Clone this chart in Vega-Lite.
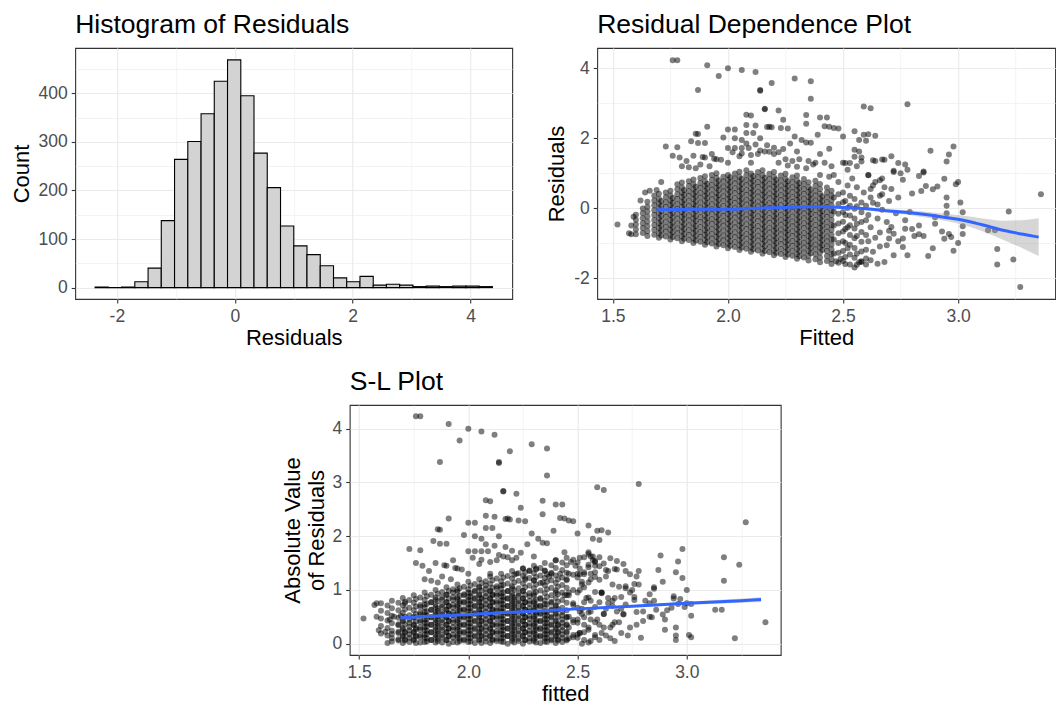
{
"$schema": "https://vega.github.io/schema/vega-lite/v6.json",
"background": "white",
"padding": {"left": 9, "top": 10, "right": 0, "bottom": 0},
"config": {
  "font": "Liberation Sans",
  "view": {"stroke": "#333333", "strokeWidth": 1.1},
  "title": {"fontSize": 26.5, "fontWeight": "normal", "anchor": "start", "frame": "group", "color": "black", "baseline": "alphabetic", "offset": 10},
  "axis": {"domain": false, "gridColor": "#EBEBEB", "tickColor": "#333333", "tickSize": 4, "tickWidth": 1.1, "labelColor": "#4D4D4D", "labelFontSize": 17.5, "titleFontSize": 22, "titleFontWeight": "normal", "titleColor": "black", "labelPadding": 4},
  "axisX": {"titlePadding": 3},
  "axisY": {"titlePadding": 5}
},
"datasets": {
"hist": [
{"lo":-2.370,"hi":-2.145,"count":1},{"lo":-2.145,"hi":-1.921,"count":0},{"lo":-1.921,"hi":-1.696,"count":1},{"lo":-1.696,"hi":-1.471,"count":12},{"lo":-1.471,"hi":-1.247,"count":40},{"lo":-1.247,"hi":-1.022,"count":138},{"lo":-1.022,"hi":-0.797,"count":264},{"lo":-0.797,"hi":-0.572,"count":301},{"lo":-0.572,"hi":-0.348,"count":358},{"lo":-0.348,"hi":-0.123,"count":425},{"lo":-0.123,"hi":0.102,"count":469},{"lo":0.102,"hi":0.326,"count":395},{"lo":0.326,"hi":0.551,"count":277},{"lo":0.551,"hi":0.776,"count":206},{"lo":0.776,"hi":1.001,"count":127},{"lo":1.001,"hi":1.225,"count":86},{"lo":1.225,"hi":1.450,"count":68},{"lo":1.450,"hi":1.675,"count":45},{"lo":1.675,"hi":1.899,"count":20},{"lo":1.899,"hi":2.124,"count":12},{"lo":2.124,"hi":2.349,"count":23},{"lo":2.349,"hi":2.573,"count":5},{"lo":2.573,"hi":2.798,"count":7},{"lo":2.798,"hi":3.023,"count":5},{"lo":3.023,"hi":3.248,"count":2},{"lo":3.248,"hi":3.472,"count":3},{"lo":3.472,"hi":3.697,"count":2},{"lo":3.697,"hi":3.922,"count":3},{"lo":3.922,"hi":4.146,"count":3},{"lo":4.146,"hi":4.371,"count":2}
],
"smooth": [
{"f":1.69,"fit":-0.05,"lo":-0.11,"hi":0.01},{"f":1.8,"fit":-0.04,"lo":-0.08,"hi":0.0},{"f":1.9,"fit":-0.03,"lo":-0.06,"hi":0.0},{"f":2.0,"fit":-0.03,"lo":-0.055,"hi":-0.005},{"f":2.1,"fit":-0.01,"lo":-0.035,"hi":0.015},{"f":2.2,"fit":0.01,"lo":-0.015,"hi":0.035},{"f":2.3,"fit":0.03,"lo":0.005,"hi":0.055},{"f":2.4,"fit":0.04,"lo":0.015,"hi":0.065},{"f":2.5,"fit":0.02,"lo":-0.01,"hi":0.05},{"f":2.6,"fit":-0.02,"lo":-0.06,"hi":0.02},{"f":2.7,"fit":-0.08,"lo":-0.13,"hi":-0.03},{"f":2.8,"fit":-0.14,"lo":-0.21,"hi":-0.07},{"f":2.9,"fit":-0.22,"lo":-0.31,"hi":-0.13},{"f":3.0,"fit":-0.32,"lo":-0.44,"hi":-0.2},{"f":3.1,"fit":-0.47,"lo":-0.65,"hi":-0.29},{"f":3.2,"fit":-0.64,"lo":-0.92,"hi":-0.36},{"f":3.3,"fit":-0.77,"lo":-1.21,"hi":-0.33},{"f":3.35,"fit":-0.83,"lo":-1.37,"hi":-0.29}
],
"slsmooth": [
{"f":1.69,"fit":0.48,"lo":0.45,"hi":0.51},{"f":2.0,"fit":0.544,"lo":0.529,"hi":0.559},{"f":2.25,"fit":0.595,"lo":0.583,"hi":0.607},{"f":2.5,"fit":0.647,"lo":0.632,"hi":0.662},{"f":2.75,"fit":0.698,"lo":0.678,"hi":0.718},{"f":3.0,"fit":0.75,"lo":0.72,"hi":0.78},{"f":3.25,"fit":0.8,"lo":0.76,"hi":0.84},{"f":3.34,"fit":0.82,"lo":0.775,"hi":0.865}
],
"pts": [
{"f":1.6,"r":-0.75,"a":0.75},{"f":1.6,"r":-0.61,"a":0.61},{"f":1.6,"r":-0.47,"a":0.47},{"f":1.6,"r":-0.33,"a":0.33},{"f":1.6,"r":-0.19,"a":0.19},
{"f":1.63,"r":-0.71,"a":0.71},{"f":1.63,"r":-0.57,"a":0.57},{"f":1.63,"r":-0.43,"a":0.43},{"f":1.63,"r":-0.29,"a":0.29},{"f":1.63,"r":-0.15,"a":0.15},{"f":1.63,"r":-0.01,"a":0.01},
{"f":1.65,"r":-0.8,"a":0.8},{"f":1.65,"r":-0.66,"a":0.66},{"f":1.65,"r":-0.52,"a":0.52},{"f":1.65,"r":-0.38,"a":0.38},{"f":1.65,"r":-0.24,"a":0.24},{"f":1.65,"r":-0.1,"a":0.1},{"f":1.65,"r":0.04,"a":0.04},{"f":1.65,"r":0.18,"a":0.18},
{"f":1.68,"r":-0.76,"a":0.76},{"f":1.68,"r":-0.62,"a":0.62},{"f":1.68,"r":-0.48,"a":0.48},{"f":1.68,"r":-0.34,"a":0.34},{"f":1.68,"r":-0.2,"a":0.2},{"f":1.68,"r":-0.06,"a":0.06},{"f":1.68,"r":0.08,"a":0.08},{"f":1.68,"r":0.22,"a":0.22},{"f":1.68,"r":0.36,"a":0.36},
{"f":1.7,"r":-0.85,"a":0.85},{"f":1.7,"r":-0.71,"a":0.71},{"f":1.7,"r":-0.57,"a":0.57},{"f":1.7,"r":-0.43,"a":0.43},{"f":1.7,"r":-0.29,"a":0.29},{"f":1.7,"r":-0.15,"a":0.15},{"f":1.7,"r":-0.01,"a":0.01},{"f":1.7,"r":0.13,"a":0.13},{"f":1.7,"r":0.27,"a":0.27},{"f":1.7,"r":0.41,"a":0.41},
{"f":1.71,"r":-0.78,"a":0.78},{"f":1.71,"r":-0.64,"a":0.64},{"f":1.71,"r":-0.5,"a":0.5},{"f":1.71,"r":-0.36,"a":0.36},{"f":1.71,"r":-0.22,"a":0.22},{"f":1.71,"r":-0.08,"a":0.08},{"f":1.71,"r":0.06,"a":0.06},{"f":1.71,"r":0.2,"a":0.2},
{"f":1.73,"r":-0.81,"a":0.81},{"f":1.73,"r":-0.67,"a":0.67},{"f":1.73,"r":-0.53,"a":0.53},{"f":1.73,"r":-0.39,"a":0.39},{"f":1.73,"r":-0.25,"a":0.25},{"f":1.73,"r":-0.11,"a":0.11},{"f":1.73,"r":0.03,"a":0.03},{"f":1.73,"r":0.17,"a":0.17},{"f":1.73,"r":0.31,"a":0.31},{"f":1.73,"r":0.45,"a":0.45},
{"f":1.75,"r":-0.9,"a":0.9},{"f":1.75,"r":-0.76,"a":0.76},{"f":1.75,"r":-0.62,"a":0.62},{"f":1.75,"r":-0.48,"a":0.48},{"f":1.75,"r":-0.34,"a":0.34},{"f":1.75,"r":-0.2,"a":0.2},{"f":1.75,"r":-0.06,"a":0.06},{"f":1.75,"r":0.08,"a":0.08},{"f":1.75,"r":0.22,"a":0.22},{"f":1.75,"r":0.36,"a":0.36},{"f":1.75,"r":0.5,"a":0.5},
{"f":1.76,"r":-0.83,"a":0.83},{"f":1.76,"r":-0.69,"a":0.69},{"f":1.76,"r":-0.55,"a":0.55},{"f":1.76,"r":-0.41,"a":0.41},{"f":1.76,"r":-0.27,"a":0.27},{"f":1.76,"r":-0.13,"a":0.13},{"f":1.76,"r":0.01,"a":0.01},{"f":1.76,"r":0.15,"a":0.15},{"f":1.76,"r":0.29,"a":0.29},
{"f":1.78,"r":-0.86,"a":0.86},{"f":1.78,"r":-0.72,"a":0.72},{"f":1.78,"r":-0.58,"a":0.58},{"f":1.78,"r":-0.44,"a":0.44},{"f":1.78,"r":-0.3,"a":0.3},{"f":1.78,"r":-0.16,"a":0.16},{"f":1.78,"r":-0.02,"a":0.02},{"f":1.78,"r":0.12,"a":0.12},{"f":1.78,"r":0.26,"a":0.26},{"f":1.78,"r":0.4,"a":0.4},{"f":1.78,"r":0.54,"a":0.54},{"f":1.78,"r":0.68,"a":0.68},
{"f":1.8,"r":-0.95,"a":0.95},{"f":1.8,"r":-0.81,"a":0.81},{"f":1.8,"r":-0.67,"a":0.67},{"f":1.8,"r":-0.53,"a":0.53},{"f":1.8,"r":-0.39,"a":0.39},{"f":1.8,"r":-0.25,"a":0.25},{"f":1.8,"r":-0.11,"a":0.11},{"f":1.8,"r":0.03,"a":0.03},{"f":1.8,"r":0.17,"a":0.17},{"f":1.8,"r":0.31,"a":0.31},{"f":1.8,"r":0.45,"a":0.45},{"f":1.8,"r":0.59,"a":0.59},{"f":1.8,"r":0.73,"a":0.73},
{"f":1.81,"r":-0.88,"a":0.88},{"f":1.81,"r":-0.74,"a":0.74},{"f":1.81,"r":-0.6,"a":0.6},{"f":1.81,"r":-0.46,"a":0.46},{"f":1.81,"r":-0.32,"a":0.32},{"f":1.81,"r":-0.18,"a":0.18},{"f":1.81,"r":-0.04,"a":0.04},{"f":1.81,"r":0.1,"a":0.1},{"f":1.81,"r":0.24,"a":0.24},{"f":1.81,"r":0.38,"a":0.38},{"f":1.81,"r":0.52,"a":0.52},
{"f":1.83,"r":-0.91,"a":0.91},{"f":1.83,"r":-0.77,"a":0.77},{"f":1.83,"r":-0.63,"a":0.63},{"f":1.83,"r":-0.49,"a":0.49},{"f":1.83,"r":-0.35,"a":0.35},{"f":1.83,"r":-0.21,"a":0.21},{"f":1.83,"r":-0.07,"a":0.07},{"f":1.83,"r":0.07,"a":0.07},{"f":1.83,"r":0.21,"a":0.21},{"f":1.83,"r":0.35,"a":0.35},{"f":1.83,"r":0.49,"a":0.49},{"f":1.83,"r":0.63,"a":0.63},{"f":1.83,"r":0.77,"a":0.77},
{"f":1.85,"r":-1.0,"a":1.0},{"f":1.85,"r":-0.86,"a":0.86},{"f":1.85,"r":-0.72,"a":0.72},{"f":1.85,"r":-0.58,"a":0.58},{"f":1.85,"r":-0.44,"a":0.44},{"f":1.85,"r":-0.3,"a":0.3},{"f":1.85,"r":-0.16,"a":0.16},{"f":1.85,"r":-0.02,"a":0.02},{"f":1.85,"r":0.12,"a":0.12},{"f":1.85,"r":0.26,"a":0.26},{"f":1.85,"r":0.4,"a":0.4},{"f":1.85,"r":0.54,"a":0.54},{"f":1.85,"r":0.68,"a":0.68},{"f":1.85,"r":0.82,"a":0.82},
{"f":1.86,"r":-0.93,"a":0.93},{"f":1.86,"r":-0.79,"a":0.79},{"f":1.86,"r":-0.65,"a":0.65},{"f":1.86,"r":-0.51,"a":0.51},{"f":1.86,"r":-0.37,"a":0.37},{"f":1.86,"r":-0.23,"a":0.23},{"f":1.86,"r":-0.09,"a":0.09},{"f":1.86,"r":0.05,"a":0.05},{"f":1.86,"r":0.19,"a":0.19},{"f":1.86,"r":0.33,"a":0.33},{"f":1.86,"r":0.47,"a":0.47},{"f":1.86,"r":0.61,"a":0.61},
{"f":1.88,"r":-0.96,"a":0.96},{"f":1.88,"r":-0.82,"a":0.82},{"f":1.88,"r":-0.68,"a":0.68},{"f":1.88,"r":-0.54,"a":0.54},{"f":1.88,"r":-0.4,"a":0.4},{"f":1.88,"r":-0.26,"a":0.26},{"f":1.88,"r":-0.12,"a":0.12},{"f":1.88,"r":0.02,"a":0.02},{"f":1.88,"r":0.16,"a":0.16},{"f":1.88,"r":0.3,"a":0.3},{"f":1.88,"r":0.44,"a":0.44},{"f":1.88,"r":0.58,"a":0.58},{"f":1.88,"r":0.72,"a":0.72},{"f":1.88,"r":0.86,"a":0.86},
{"f":1.9,"r":-1.05,"a":1.05},{"f":1.9,"r":-0.91,"a":0.91},{"f":1.9,"r":-0.77,"a":0.77},{"f":1.9,"r":-0.63,"a":0.63},{"f":1.9,"r":-0.49,"a":0.49},{"f":1.9,"r":-0.35,"a":0.35},{"f":1.9,"r":-0.21,"a":0.21},{"f":1.9,"r":-0.07,"a":0.07},{"f":1.9,"r":0.07,"a":0.07},{"f":1.9,"r":0.21,"a":0.21},{"f":1.9,"r":0.35,"a":0.35},{"f":1.9,"r":0.49,"a":0.49},{"f":1.9,"r":0.63,"a":0.63},{"f":1.9,"r":0.77,"a":0.77},{"f":1.9,"r":0.91,"a":0.91},
{"f":1.91,"r":-0.98,"a":0.98},{"f":1.91,"r":-0.84,"a":0.84},{"f":1.91,"r":-0.7,"a":0.7},{"f":1.91,"r":-0.56,"a":0.56},{"f":1.91,"r":-0.42,"a":0.42},{"f":1.91,"r":-0.28,"a":0.28},{"f":1.91,"r":-0.14,"a":0.14},{"f":1.91,"r":0.0,"a":0.0},{"f":1.91,"r":0.14,"a":0.14},{"f":1.91,"r":0.28,"a":0.28},{"f":1.91,"r":0.42,"a":0.42},{"f":1.91,"r":0.56,"a":0.56},{"f":1.91,"r":0.7,"a":0.7},
{"f":1.93,"r":-1.01,"a":1.01},{"f":1.93,"r":-0.87,"a":0.87},{"f":1.93,"r":-0.73,"a":0.73},{"f":1.93,"r":-0.59,"a":0.59},{"f":1.93,"r":-0.45,"a":0.45},{"f":1.93,"r":-0.31,"a":0.31},{"f":1.93,"r":-0.17,"a":0.17},{"f":1.93,"r":-0.03,"a":0.03},{"f":1.93,"r":0.11,"a":0.11},{"f":1.93,"r":0.25,"a":0.25},{"f":1.93,"r":0.39,"a":0.39},{"f":1.93,"r":0.53,"a":0.53},{"f":1.93,"r":0.67,"a":0.67},{"f":1.93,"r":0.81,"a":0.81},{"f":1.93,"r":0.95,"a":0.95},
{"f":1.95,"r":-1.1,"a":1.1},{"f":1.95,"r":-0.96,"a":0.96},{"f":1.95,"r":-0.82,"a":0.82},{"f":1.95,"r":-0.68,"a":0.68},{"f":1.95,"r":-0.54,"a":0.54},{"f":1.95,"r":-0.4,"a":0.4},{"f":1.95,"r":-0.26,"a":0.26},{"f":1.95,"r":-0.12,"a":0.12},{"f":1.95,"r":0.02,"a":0.02},{"f":1.95,"r":0.16,"a":0.16},{"f":1.95,"r":0.3,"a":0.3},{"f":1.95,"r":0.44,"a":0.44},{"f":1.95,"r":0.58,"a":0.58},{"f":1.95,"r":0.72,"a":0.72},{"f":1.95,"r":0.86,"a":0.86},{"f":1.95,"r":1.0,"a":1.0},
{"f":1.96,"r":-1.03,"a":1.03},{"f":1.96,"r":-0.89,"a":0.89},{"f":1.96,"r":-0.75,"a":0.75},{"f":1.96,"r":-0.61,"a":0.61},{"f":1.96,"r":-0.47,"a":0.47},{"f":1.96,"r":-0.33,"a":0.33},{"f":1.96,"r":-0.19,"a":0.19},{"f":1.96,"r":-0.05,"a":0.05},{"f":1.96,"r":0.09,"a":0.09},{"f":1.96,"r":0.23,"a":0.23},{"f":1.96,"r":0.37,"a":0.37},{"f":1.96,"r":0.51,"a":0.51},{"f":1.96,"r":0.65,"a":0.65},{"f":1.96,"r":0.79,"a":0.79},
{"f":1.98,"r":-1.06,"a":1.06},{"f":1.98,"r":-0.92,"a":0.92},{"f":1.98,"r":-0.78,"a":0.78},{"f":1.98,"r":-0.64,"a":0.64},{"f":1.98,"r":-0.5,"a":0.5},{"f":1.98,"r":-0.36,"a":0.36},{"f":1.98,"r":-0.22,"a":0.22},{"f":1.98,"r":-0.08,"a":0.08},{"f":1.98,"r":0.06,"a":0.06},{"f":1.98,"r":0.2,"a":0.2},{"f":1.98,"r":0.34,"a":0.34},{"f":1.98,"r":0.48,"a":0.48},{"f":1.98,"r":0.62,"a":0.62},{"f":1.98,"r":0.76,"a":0.76},{"f":1.98,"r":0.9,"a":0.9},
{"f":2.0,"r":-1.15,"a":1.15},{"f":2.0,"r":-1.01,"a":1.01},{"f":2.0,"r":-0.87,"a":0.87},{"f":2.0,"r":-0.73,"a":0.73},{"f":2.0,"r":-0.59,"a":0.59},{"f":2.0,"r":-0.45,"a":0.45},{"f":2.0,"r":-0.31,"a":0.31},{"f":2.0,"r":-0.17,"a":0.17},{"f":2.0,"r":-0.03,"a":0.03},{"f":2.0,"r":0.11,"a":0.11},{"f":2.0,"r":0.25,"a":0.25},{"f":2.0,"r":0.39,"a":0.39},{"f":2.0,"r":0.53,"a":0.53},{"f":2.0,"r":0.67,"a":0.67},{"f":2.0,"r":0.81,"a":0.81},{"f":2.0,"r":0.95,"a":0.95},
{"f":2.01,"r":-1.08,"a":1.08},{"f":2.01,"r":-0.94,"a":0.94},{"f":2.01,"r":-0.8,"a":0.8},{"f":2.01,"r":-0.66,"a":0.66},{"f":2.01,"r":-0.52,"a":0.52},{"f":2.01,"r":-0.38,"a":0.38},{"f":2.01,"r":-0.24,"a":0.24},{"f":2.01,"r":-0.1,"a":0.1},{"f":2.01,"r":0.04,"a":0.04},{"f":2.01,"r":0.18,"a":0.18},{"f":2.01,"r":0.32,"a":0.32},{"f":2.01,"r":0.46,"a":0.46},{"f":2.01,"r":0.6,"a":0.6},{"f":2.01,"r":0.74,"a":0.74},{"f":2.01,"r":0.88,"a":0.88},
{"f":2.03,"r":-1.11,"a":1.11},{"f":2.03,"r":-0.97,"a":0.97},{"f":2.03,"r":-0.83,"a":0.83},{"f":2.03,"r":-0.69,"a":0.69},{"f":2.03,"r":-0.55,"a":0.55},{"f":2.03,"r":-0.41,"a":0.41},{"f":2.03,"r":-0.27,"a":0.27},{"f":2.03,"r":-0.13,"a":0.13},{"f":2.03,"r":0.01,"a":0.01},{"f":2.03,"r":0.15,"a":0.15},{"f":2.03,"r":0.29,"a":0.29},{"f":2.03,"r":0.43,"a":0.43},{"f":2.03,"r":0.57,"a":0.57},{"f":2.03,"r":0.71,"a":0.71},{"f":2.03,"r":0.85,"a":0.85},{"f":2.03,"r":0.99,"a":0.99},
{"f":2.05,"r":-1.2,"a":1.2},{"f":2.05,"r":-1.06,"a":1.06},{"f":2.05,"r":-0.92,"a":0.92},{"f":2.05,"r":-0.78,"a":0.78},{"f":2.05,"r":-0.64,"a":0.64},{"f":2.05,"r":-0.5,"a":0.5},{"f":2.05,"r":-0.36,"a":0.36},{"f":2.05,"r":-0.22,"a":0.22},{"f":2.05,"r":-0.08,"a":0.08},{"f":2.05,"r":0.06,"a":0.06},{"f":2.05,"r":0.2,"a":0.2},{"f":2.05,"r":0.34,"a":0.34},{"f":2.05,"r":0.48,"a":0.48},{"f":2.05,"r":0.62,"a":0.62},{"f":2.05,"r":0.76,"a":0.76},{"f":2.05,"r":0.9,"a":0.9},{"f":2.05,"r":1.04,"a":1.04},
{"f":2.06,"r":-1.13,"a":1.13},{"f":2.06,"r":-0.99,"a":0.99},{"f":2.06,"r":-0.85,"a":0.85},{"f":2.06,"r":-0.71,"a":0.71},{"f":2.06,"r":-0.57,"a":0.57},{"f":2.06,"r":-0.43,"a":0.43},{"f":2.06,"r":-0.29,"a":0.29},{"f":2.06,"r":-0.15,"a":0.15},{"f":2.06,"r":-0.01,"a":0.01},{"f":2.06,"r":0.13,"a":0.13},{"f":2.06,"r":0.27,"a":0.27},{"f":2.06,"r":0.41,"a":0.41},{"f":2.06,"r":0.55,"a":0.55},{"f":2.06,"r":0.69,"a":0.69},{"f":2.06,"r":0.83,"a":0.83},
{"f":2.08,"r":-1.16,"a":1.16},{"f":2.08,"r":-1.02,"a":1.02},{"f":2.08,"r":-0.88,"a":0.88},{"f":2.08,"r":-0.74,"a":0.74},{"f":2.08,"r":-0.6,"a":0.6},{"f":2.08,"r":-0.46,"a":0.46},{"f":2.08,"r":-0.32,"a":0.32},{"f":2.08,"r":-0.18,"a":0.18},{"f":2.08,"r":-0.04,"a":0.04},{"f":2.08,"r":0.1,"a":0.1},{"f":2.08,"r":0.24,"a":0.24},{"f":2.08,"r":0.38,"a":0.38},{"f":2.08,"r":0.52,"a":0.52},{"f":2.08,"r":0.66,"a":0.66},{"f":2.08,"r":0.8,"a":0.8},{"f":2.08,"r":0.94,"a":0.94},{"f":2.08,"r":1.08,"a":1.08},
{"f":2.1,"r":-1.25,"a":1.25},{"f":2.1,"r":-1.11,"a":1.11},{"f":2.1,"r":-0.97,"a":0.97},{"f":2.1,"r":-0.83,"a":0.83},{"f":2.1,"r":-0.69,"a":0.69},{"f":2.1,"r":-0.55,"a":0.55},{"f":2.1,"r":-0.41,"a":0.41},{"f":2.1,"r":-0.27,"a":0.27},{"f":2.1,"r":-0.13,"a":0.13},{"f":2.1,"r":0.01,"a":0.01},{"f":2.1,"r":0.15,"a":0.15},{"f":2.1,"r":0.29,"a":0.29},{"f":2.1,"r":0.43,"a":0.43},{"f":2.1,"r":0.57,"a":0.57},{"f":2.1,"r":0.71,"a":0.71},{"f":2.1,"r":0.85,"a":0.85},{"f":2.1,"r":0.99,"a":0.99},
{"f":2.11,"r":-1.18,"a":1.18},{"f":2.11,"r":-1.04,"a":1.04},{"f":2.11,"r":-0.9,"a":0.9},{"f":2.11,"r":-0.76,"a":0.76},{"f":2.11,"r":-0.62,"a":0.62},{"f":2.11,"r":-0.48,"a":0.48},{"f":2.11,"r":-0.34,"a":0.34},{"f":2.11,"r":-0.2,"a":0.2},{"f":2.11,"r":-0.06,"a":0.06},{"f":2.11,"r":0.08,"a":0.08},{"f":2.11,"r":0.22,"a":0.22},{"f":2.11,"r":0.36,"a":0.36},{"f":2.11,"r":0.5,"a":0.5},{"f":2.11,"r":0.64,"a":0.64},{"f":2.11,"r":0.78,"a":0.78},{"f":2.11,"r":0.92,"a":0.92},
{"f":2.13,"r":-1.21,"a":1.21},{"f":2.13,"r":-1.07,"a":1.07},{"f":2.13,"r":-0.93,"a":0.93},{"f":2.13,"r":-0.79,"a":0.79},{"f":2.13,"r":-0.65,"a":0.65},{"f":2.13,"r":-0.51,"a":0.51},{"f":2.13,"r":-0.37,"a":0.37},{"f":2.13,"r":-0.23,"a":0.23},{"f":2.13,"r":-0.09,"a":0.09},{"f":2.13,"r":0.05,"a":0.05},{"f":2.13,"r":0.19,"a":0.19},{"f":2.13,"r":0.33,"a":0.33},{"f":2.13,"r":0.47,"a":0.47},{"f":2.13,"r":0.61,"a":0.61},{"f":2.13,"r":0.75,"a":0.75},{"f":2.13,"r":0.89,"a":0.89},{"f":2.13,"r":1.03,"a":1.03},
{"f":2.15,"r":-1.3,"a":1.3},{"f":2.15,"r":-1.16,"a":1.16},{"f":2.15,"r":-1.02,"a":1.02},{"f":2.15,"r":-0.88,"a":0.88},{"f":2.15,"r":-0.74,"a":0.74},{"f":2.15,"r":-0.6,"a":0.6},{"f":2.15,"r":-0.46,"a":0.46},{"f":2.15,"r":-0.32,"a":0.32},{"f":2.15,"r":-0.18,"a":0.18},{"f":2.15,"r":-0.04,"a":0.04},{"f":2.15,"r":0.1,"a":0.1},{"f":2.15,"r":0.24,"a":0.24},{"f":2.15,"r":0.38,"a":0.38},{"f":2.15,"r":0.52,"a":0.52},{"f":2.15,"r":0.66,"a":0.66},{"f":2.15,"r":0.8,"a":0.8},{"f":2.15,"r":0.94,"a":0.94},{"f":2.15,"r":1.08,"a":1.08},
{"f":2.16,"r":-1.23,"a":1.23},{"f":2.16,"r":-1.09,"a":1.09},{"f":2.16,"r":-0.95,"a":0.95},{"f":2.16,"r":-0.81,"a":0.81},{"f":2.16,"r":-0.67,"a":0.67},{"f":2.16,"r":-0.53,"a":0.53},{"f":2.16,"r":-0.39,"a":0.39},{"f":2.16,"r":-0.25,"a":0.25},{"f":2.16,"r":-0.11,"a":0.11},{"f":2.16,"r":0.03,"a":0.03},{"f":2.16,"r":0.17,"a":0.17},{"f":2.16,"r":0.31,"a":0.31},{"f":2.16,"r":0.45,"a":0.45},{"f":2.16,"r":0.59,"a":0.59},{"f":2.16,"r":0.73,"a":0.73},{"f":2.16,"r":0.87,"a":0.87},
{"f":2.18,"r":-1.26,"a":1.26},{"f":2.18,"r":-1.12,"a":1.12},{"f":2.18,"r":-0.98,"a":0.98},{"f":2.18,"r":-0.84,"a":0.84},{"f":2.18,"r":-0.7,"a":0.7},{"f":2.18,"r":-0.56,"a":0.56},{"f":2.18,"r":-0.42,"a":0.42},{"f":2.18,"r":-0.28,"a":0.28},{"f":2.18,"r":-0.14,"a":0.14},{"f":2.18,"r":0.0,"a":0.0},{"f":2.18,"r":0.14,"a":0.14},{"f":2.18,"r":0.28,"a":0.28},{"f":2.18,"r":0.42,"a":0.42},{"f":2.18,"r":0.56,"a":0.56},{"f":2.18,"r":0.7,"a":0.7},{"f":2.18,"r":0.84,"a":0.84},{"f":2.18,"r":0.98,"a":0.98},
{"f":2.2,"r":-1.35,"a":1.35},{"f":2.2,"r":-1.21,"a":1.21},{"f":2.2,"r":-1.07,"a":1.07},{"f":2.2,"r":-0.93,"a":0.93},{"f":2.2,"r":-0.79,"a":0.79},{"f":2.2,"r":-0.65,"a":0.65},{"f":2.2,"r":-0.51,"a":0.51},{"f":2.2,"r":-0.37,"a":0.37},{"f":2.2,"r":-0.23,"a":0.23},{"f":2.2,"r":-0.09,"a":0.09},{"f":2.2,"r":0.05,"a":0.05},{"f":2.2,"r":0.19,"a":0.19},{"f":2.2,"r":0.33,"a":0.33},{"f":2.2,"r":0.47,"a":0.47},{"f":2.2,"r":0.61,"a":0.61},{"f":2.2,"r":0.75,"a":0.75},{"f":2.2,"r":0.89,"a":0.89},{"f":2.2,"r":1.03,"a":1.03},
{"f":2.21,"r":-1.28,"a":1.28},{"f":2.21,"r":-1.14,"a":1.14},{"f":2.21,"r":-1.0,"a":1.0},{"f":2.21,"r":-0.86,"a":0.86},{"f":2.21,"r":-0.72,"a":0.72},{"f":2.21,"r":-0.58,"a":0.58},{"f":2.21,"r":-0.44,"a":0.44},{"f":2.21,"r":-0.3,"a":0.3},{"f":2.21,"r":-0.16,"a":0.16},{"f":2.21,"r":-0.02,"a":0.02},{"f":2.21,"r":0.12,"a":0.12},{"f":2.21,"r":0.26,"a":0.26},{"f":2.21,"r":0.4,"a":0.4},{"f":2.21,"r":0.54,"a":0.54},{"f":2.21,"r":0.68,"a":0.68},{"f":2.21,"r":0.82,"a":0.82},
{"f":2.23,"r":-1.31,"a":1.31},{"f":2.23,"r":-1.17,"a":1.17},{"f":2.23,"r":-1.03,"a":1.03},{"f":2.23,"r":-0.89,"a":0.89},{"f":2.23,"r":-0.75,"a":0.75},{"f":2.23,"r":-0.61,"a":0.61},{"f":2.23,"r":-0.47,"a":0.47},{"f":2.23,"r":-0.33,"a":0.33},{"f":2.23,"r":-0.19,"a":0.19},{"f":2.23,"r":-0.05,"a":0.05},{"f":2.23,"r":0.09,"a":0.09},{"f":2.23,"r":0.23,"a":0.23},{"f":2.23,"r":0.37,"a":0.37},{"f":2.23,"r":0.51,"a":0.51},{"f":2.23,"r":0.65,"a":0.65},{"f":2.23,"r":0.79,"a":0.79},{"f":2.23,"r":0.93,"a":0.93},
{"f":2.25,"r":-1.4,"a":1.4},{"f":2.25,"r":-1.26,"a":1.26},{"f":2.25,"r":-1.12,"a":1.12},{"f":2.25,"r":-0.98,"a":0.98},{"f":2.25,"r":-0.84,"a":0.84},{"f":2.25,"r":-0.7,"a":0.7},{"f":2.25,"r":-0.56,"a":0.56},{"f":2.25,"r":-0.42,"a":0.42},{"f":2.25,"r":-0.28,"a":0.28},{"f":2.25,"r":-0.14,"a":0.14},{"f":2.25,"r":0.0,"a":0.0},{"f":2.25,"r":0.14,"a":0.14},{"f":2.25,"r":0.28,"a":0.28},{"f":2.25,"r":0.42,"a":0.42},{"f":2.25,"r":0.56,"a":0.56},{"f":2.25,"r":0.7,"a":0.7},{"f":2.25,"r":0.84,"a":0.84},{"f":2.25,"r":0.98,"a":0.98},
{"f":2.26,"r":-1.33,"a":1.33},{"f":2.26,"r":-1.19,"a":1.19},{"f":2.26,"r":-1.05,"a":1.05},{"f":2.26,"r":-0.91,"a":0.91},{"f":2.26,"r":-0.77,"a":0.77},{"f":2.26,"r":-0.63,"a":0.63},{"f":2.26,"r":-0.49,"a":0.49},{"f":2.26,"r":-0.35,"a":0.35},{"f":2.26,"r":-0.21,"a":0.21},{"f":2.26,"r":-0.07,"a":0.07},{"f":2.26,"r":0.07,"a":0.07},{"f":2.26,"r":0.21,"a":0.21},{"f":2.26,"r":0.35,"a":0.35},{"f":2.26,"r":0.49,"a":0.49},{"f":2.26,"r":0.63,"a":0.63},{"f":2.26,"r":0.77,"a":0.77},
{"f":2.28,"r":-1.36,"a":1.36},{"f":2.28,"r":-1.22,"a":1.22},{"f":2.28,"r":-1.08,"a":1.08},{"f":2.28,"r":-0.94,"a":0.94},{"f":2.28,"r":-0.8,"a":0.8},{"f":2.28,"r":-0.66,"a":0.66},{"f":2.28,"r":-0.52,"a":0.52},{"f":2.28,"r":-0.38,"a":0.38},{"f":2.28,"r":-0.24,"a":0.24},{"f":2.28,"r":-0.1,"a":0.1},{"f":2.28,"r":0.04,"a":0.04},{"f":2.28,"r":0.18,"a":0.18},{"f":2.28,"r":0.32,"a":0.32},{"f":2.28,"r":0.46,"a":0.46},{"f":2.28,"r":0.6,"a":0.6},{"f":2.28,"r":0.74,"a":0.74},{"f":2.28,"r":0.88,"a":0.88},
{"f":2.3,"r":-1.45,"a":1.45},{"f":2.3,"r":-1.31,"a":1.31},{"f":2.3,"r":-1.17,"a":1.17},{"f":2.3,"r":-1.03,"a":1.03},{"f":2.3,"r":-0.89,"a":0.89},{"f":2.3,"r":-0.75,"a":0.75},{"f":2.3,"r":-0.61,"a":0.61},{"f":2.3,"r":-0.47,"a":0.47},{"f":2.3,"r":-0.33,"a":0.33},{"f":2.3,"r":-0.19,"a":0.19},{"f":2.3,"r":-0.05,"a":0.05},{"f":2.3,"r":0.09,"a":0.09},{"f":2.3,"r":0.23,"a":0.23},{"f":2.3,"r":0.37,"a":0.37},{"f":2.3,"r":0.51,"a":0.51},{"f":2.3,"r":0.65,"a":0.65},{"f":2.3,"r":0.79,"a":0.79},{"f":2.3,"r":0.93,"a":0.93},
{"f":2.31,"r":-1.38,"a":1.38},{"f":2.31,"r":-1.24,"a":1.24},{"f":2.31,"r":-1.1,"a":1.1},{"f":2.31,"r":-0.96,"a":0.96},{"f":2.31,"r":-0.82,"a":0.82},{"f":2.31,"r":-0.68,"a":0.68},{"f":2.31,"r":-0.54,"a":0.54},{"f":2.31,"r":-0.4,"a":0.4},{"f":2.31,"r":-0.26,"a":0.26},{"f":2.31,"r":-0.12,"a":0.12},{"f":2.31,"r":0.02,"a":0.02},{"f":2.31,"r":0.16,"a":0.16},{"f":2.31,"r":0.3,"a":0.3},{"f":2.31,"r":0.44,"a":0.44},{"f":2.31,"r":0.58,"a":0.58},{"f":2.31,"r":0.72,"a":0.72},
{"f":2.33,"r":-1.41,"a":1.41},{"f":2.33,"r":-1.27,"a":1.27},{"f":2.33,"r":-1.13,"a":1.13},{"f":2.33,"r":-0.99,"a":0.99},{"f":2.33,"r":-0.85,"a":0.85},{"f":2.33,"r":-0.71,"a":0.71},{"f":2.33,"r":-0.57,"a":0.57},{"f":2.33,"r":-0.43,"a":0.43},{"f":2.33,"r":-0.29,"a":0.29},{"f":2.33,"r":-0.15,"a":0.15},{"f":2.33,"r":-0.01,"a":0.01},{"f":2.33,"r":0.13,"a":0.13},{"f":2.33,"r":0.27,"a":0.27},{"f":2.33,"r":0.41,"a":0.41},{"f":2.33,"r":0.55,"a":0.55},{"f":2.33,"r":0.69,"a":0.69},{"f":2.33,"r":0.83,"a":0.83},
{"f":2.35,"r":-1.5,"a":1.5},{"f":2.35,"r":-1.36,"a":1.36},{"f":2.35,"r":-1.22,"a":1.22},{"f":2.35,"r":-1.08,"a":1.08},{"f":2.35,"r":-0.94,"a":0.94},{"f":2.35,"r":-0.8,"a":0.8},{"f":2.35,"r":-0.66,"a":0.66},{"f":2.35,"r":-0.52,"a":0.52},{"f":2.35,"r":-0.38,"a":0.38},{"f":2.35,"r":-0.24,"a":0.24},{"f":2.35,"r":-0.1,"a":0.1},{"f":2.35,"r":0.04,"a":0.04},{"f":2.35,"r":0.18,"a":0.18},{"f":2.35,"r":0.32,"a":0.32},{"f":2.35,"r":0.46,"a":0.46},{"f":2.35,"r":0.6,"a":0.6},{"f":2.35,"r":0.74,"a":0.74},
{"f":2.36,"r":-1.29,"a":1.29},{"f":2.36,"r":-1.15,"a":1.15},{"f":2.36,"r":-1.01,"a":1.01},{"f":2.36,"r":-0.87,"a":0.87},{"f":2.36,"r":-0.73,"a":0.73},{"f":2.36,"r":-0.59,"a":0.59},{"f":2.36,"r":-0.45,"a":0.45},{"f":2.36,"r":-0.31,"a":0.31},{"f":2.36,"r":-0.17,"a":0.17},{"f":2.36,"r":-0.03,"a":0.03},{"f":2.36,"r":0.11,"a":0.11},{"f":2.36,"r":0.25,"a":0.25},{"f":2.36,"r":0.39,"a":0.39},{"f":2.36,"r":0.53,"a":0.53},
{"f":2.38,"r":-1.46,"a":1.46},{"f":2.38,"r":-1.32,"a":1.32},{"f":2.38,"r":-1.18,"a":1.18},{"f":2.38,"r":-1.04,"a":1.04},{"f":2.38,"r":-0.9,"a":0.9},{"f":2.38,"r":-0.76,"a":0.76},{"f":2.38,"r":-0.62,"a":0.62},{"f":2.38,"r":-0.48,"a":0.48},{"f":2.38,"r":-0.34,"a":0.34},{"f":2.38,"r":-0.2,"a":0.2},{"f":2.38,"r":-0.06,"a":0.06},{"f":2.38,"r":0.08,"a":0.08},{"f":2.38,"r":0.22,"a":0.22},{"f":2.38,"r":0.36,"a":0.36},{"f":2.38,"r":0.5,"a":0.5},{"f":2.38,"r":0.64,"a":0.64},{"f":2.38,"r":0.78,"a":0.78},
{"f":2.4,"r":-1.55,"a":1.55},{"f":2.4,"r":-1.41,"a":1.41},{"f":2.4,"r":-1.27,"a":1.27},{"f":2.4,"r":-1.13,"a":1.13},{"f":2.4,"r":-0.99,"a":0.99},{"f":2.4,"r":-0.85,"a":0.85},{"f":2.4,"r":-0.71,"a":0.71},{"f":2.4,"r":-0.57,"a":0.57},{"f":2.4,"r":-0.43,"a":0.43},{"f":2.4,"r":-0.29,"a":0.29},{"f":2.4,"r":-0.15,"a":0.15},{"f":2.4,"r":-0.01,"a":0.01},{"f":2.4,"r":0.13,"a":0.13},{"f":2.4,"r":0.27,"a":0.27},{"f":2.4,"r":0.41,"a":0.41},{"f":2.4,"r":0.55,"a":0.55},{"f":2.4,"r":0.69,"a":0.69},
{"f":2.41,"r":-1.2,"a":1.2},{"f":2.41,"r":-1.06,"a":1.06},{"f":2.41,"r":-0.92,"a":0.92},{"f":2.41,"r":-0.78,"a":0.78},{"f":2.41,"r":-0.64,"a":0.64},{"f":2.41,"r":-0.5,"a":0.5},{"f":2.41,"r":-0.36,"a":0.36},{"f":2.41,"r":-0.22,"a":0.22},{"f":2.41,"r":-0.08,"a":0.08},{"f":2.41,"r":0.06,"a":0.06},{"f":2.41,"r":0.2,"a":0.2},{"f":2.41,"r":0.34,"a":0.34},
{"f":2.43,"r":-1.51,"a":1.51},{"f":2.43,"r":-1.37,"a":1.37},{"f":2.43,"r":-1.23,"a":1.23},{"f":2.43,"r":-1.09,"a":1.09},{"f":2.43,"r":-0.95,"a":0.95},{"f":2.43,"r":-0.81,"a":0.81},{"f":2.43,"r":-0.67,"a":0.67},{"f":2.43,"r":-0.53,"a":0.53},{"f":2.43,"r":-0.39,"a":0.39},{"f":2.43,"r":-0.25,"a":0.25},{"f":2.43,"r":-0.11,"a":0.11},{"f":2.43,"r":0.03,"a":0.03},{"f":2.43,"r":0.17,"a":0.17},{"f":2.43,"r":0.31,"a":0.31},{"f":2.43,"r":0.45,"a":0.45},{"f":2.43,"r":0.59,"a":0.59},
{"f":2.45,"r":-1.6,"a":1.6},{"f":2.45,"r":-1.46,"a":1.46},{"f":2.45,"r":-1.32,"a":1.32},{"f":2.45,"r":-1.18,"a":1.18},{"f":2.45,"r":-1.04,"a":1.04},{"f":2.45,"r":-0.9,"a":0.9},{"f":2.45,"r":-0.76,"a":0.76},{"f":2.45,"r":-0.62,"a":0.62},{"f":2.45,"r":-0.48,"a":0.48},{"f":2.45,"r":-0.34,"a":0.34},{"f":2.45,"r":-0.2,"a":0.2},{"f":2.45,"r":-0.06,"a":0.06},{"f":2.45,"r":0.08,"a":0.08},{"f":2.45,"r":0.22,"a":0.22},{"f":2.45,"r":0.36,"a":0.36},{"f":2.45,"r":0.5,"a":0.5},
{"f":2.46,"r":-1.3,"a":1.3},{"f":2.46,"r":-0.9,"a":0.9},{"f":2.46,"r":-0.5,"a":0.5},{"f":2.46,"r":-0.1,"a":0.1},{"f":2.46,"r":0.3,"a":0.3},
{"f":2.48,"r":-1.56,"a":1.56},{"f":2.48,"r":-1.28,"a":1.28},{"f":2.48,"r":-1.0,"a":1.0},{"f":2.48,"r":-0.72,"a":0.72},{"f":2.48,"r":-0.44,"a":0.44},{"f":2.48,"r":-0.16,"a":0.16},{"f":2.48,"r":0.12,"a":0.12},{"f":2.48,"r":0.4,"a":0.4},
{"f":2.5,"r":-1.51,"a":1.51},{"f":2.5,"r":-1.23,"a":1.23},{"f":2.5,"r":-0.95,"a":0.95},{"f":2.5,"r":-0.67,"a":0.67},{"f":2.5,"r":-0.39,"a":0.39},{"f":2.5,"r":-0.11,"a":0.11},{"f":2.5,"r":0.17,"a":0.17},{"f":2.5,"r":0.45,"a":0.45},
{"f":2.51,"r":-1.4,"a":1.4},{"f":2.51,"r":-1.0,"a":1.0},{"f":2.51,"r":-0.6,"a":0.6},{"f":2.51,"r":-0.2,"a":0.2},{"f":2.51,"r":0.2,"a":0.2},
{"f":2.52,"r":-1.15,"a":1.15},{"f":2.52,"r":-0.55,"a":0.55},{"f":2.52,"r":0.0,"a":0.0},
{"f":2.53,"r":-1.61,"a":1.61},{"f":2.53,"r":-1.33,"a":1.33},{"f":2.53,"r":-1.05,"a":1.05},{"f":2.53,"r":-0.77,"a":0.77},{"f":2.53,"r":-0.49,"a":0.49},{"f":2.53,"r":-0.21,"a":0.21},{"f":2.53,"r":0.07,"a":0.07},{"f":2.53,"r":0.35,"a":0.35},
{"f":2.55,"r":-1.7,"a":1.7},{"f":2.55,"r":-1.42,"a":1.42},{"f":2.55,"r":-1.14,"a":1.14},{"f":2.55,"r":-0.86,"a":0.86},{"f":2.55,"r":-0.58,"a":0.58},{"f":2.55,"r":-0.3,"a":0.3},{"f":2.55,"r":-0.02,"a":0.02},{"f":2.55,"r":0.26,"a":0.26},
{"f":2.56,"r":-1.3,"a":1.3},{"f":2.56,"r":-0.8,"a":0.8},{"f":2.56,"r":-0.45,"a":0.45},{"f":2.56,"r":0.05,"a":0.05},
{"f":2.58,"r":-1.52,"a":1.52},{"f":2.58,"r":-1.24,"a":1.24},{"f":2.58,"r":-0.96,"a":0.96},{"f":2.58,"r":-0.68,"a":0.68},{"f":2.58,"r":-0.4,"a":0.4},{"f":2.58,"r":-0.12,"a":0.12},{"f":2.58,"r":0.16,"a":0.16},
{"f":2.6,"r":-1.61,"a":1.61},{"f":2.6,"r":-1.19,"a":1.19},{"f":2.6,"r":-0.77,"a":0.77},{"f":2.6,"r":-0.35,"a":0.35},{"f":2.6,"r":0.07,"a":0.07},
{"f":1.76,"r":4.23,"a":4.23},{"f":1.78,"r":4.23,"a":4.23},{"f":1.87,"r":3.38,"a":3.38},{"f":1.91,"r":4.09,"a":4.09},{"f":1.96,"r":3.78,"a":3.78},{"f":2.0,"r":4.0,"a":4.0},{"f":2.06,"r":3.95,"a":3.95},{"f":2.12,"r":3.89,"a":3.89},{"f":2.14,"r":3.38,"a":3.38},{"f":2.14,"r":3.36,"a":3.36},{"f":2.19,"r":3.58,"a":3.58},{"f":2.29,"r":3.71,"a":3.71},{"f":2.36,"r":3.63,"a":3.63},{"f":2.36,"r":3.13,"a":3.13},{"f":2.59,"r":2.91,"a":2.91},{"f":2.62,"r":2.86,"a":2.86},{"f":2.78,"r":2.97,"a":2.97},{"f":2.16,"r":2.84,"a":2.84},{"f":2.16,"r":2.83,"a":2.83},{"f":2.22,"r":2.79,"a":2.79},{"f":2.34,"r":2.66,"a":2.66},{"f":2.08,"r":2.67,"a":2.67},{"f":2.1,"r":2.65,"a":2.65},{"f":2.24,"r":2.53,"a":2.53},{"f":2.4,"r":2.59,"a":2.59},{"f":2.43,"r":2.59,"a":2.59},{"f":2.34,"r":2.41,"a":2.41},{"f":2.42,"r":2.34,"a":2.34},{"f":2.44,"r":2.33,"a":2.33},{"f":2.46,"r":2.29,"a":2.29},{"f":2.48,"r":2.28,"a":2.28},{"f":1.91,"r":2.33,"a":2.33},{"f":2.0,"r":2.25,"a":2.25},{"f":2.03,"r":2.25,"a":2.25},{"f":2.08,"r":2.38,"a":2.38},{"f":2.12,"r":2.36,"a":2.36},{"f":2.17,"r":2.32,"a":2.32},{"f":2.18,"r":2.33,"a":2.33},{"f":2.19,"r":2.31,"a":2.31},{"f":2.23,"r":2.29,"a":2.29},{"f":2.26,"r":2.28,"a":2.28},{"f":2.5,"r":2.05,"a":2.05},{"f":2.55,"r":2.2,"a":2.2},{"f":2.57,"r":1.95,"a":1.95},{"f":2.59,"r":2.1,"a":2.1},{"f":2.61,"r":2.11,"a":2.11},{"f":2.64,"r":2.07,"a":2.07},{"f":2.6,"r":1.93,"a":1.93},
{"f":1.73,"r":1.76,"a":1.76},{"f":1.78,"r":1.74,"a":1.74},{"f":1.76,"r":1.5,"a":1.5},{"f":1.79,"r":1.45,"a":1.45},{"f":1.82,"r":1.35,"a":1.35},{"f":1.84,"r":1.91,"a":1.91},{"f":1.86,"r":2.13,"a":2.13},{"f":1.87,"r":2.12,"a":2.12},{"f":1.87,"r":1.86,"a":1.86},{"f":1.9,"r":1.86,"a":1.86},{"f":1.93,"r":1.55,"a":1.55},{"f":1.88,"r":1.25,"a":1.25},{"f":1.92,"r":1.2,"a":1.2},{"f":1.95,"r":1.4,"a":1.4},{"f":1.98,"r":2.02,"a":2.02},{"f":2.03,"r":2.0,"a":2.0},{"f":2.0,"r":1.72,"a":1.72},{"f":2.03,"r":1.72,"a":1.72},{"f":2.06,"r":1.72,"a":1.72},{"f":2.09,"r":1.72,"a":1.72},{"f":2.08,"r":2.15,"a":2.15},{"f":2.11,"r":2.15,"a":2.15},{"f":2.14,"r":2.0,"a":2.0},{"f":2.17,"r":1.8,"a":1.8},{"f":2.12,"r":1.82,"a":1.82},{"f":2.06,"r":1.95,"a":1.95},{"f":2.05,"r":1.48,"a":1.48},{"f":2.1,"r":1.3,"a":1.3},{"f":2.0,"r":1.3,"a":1.3},{"f":2.13,"r":1.55,"a":1.55},{"f":2.16,"r":1.62,"a":1.62},{"f":2.2,"r":1.55,"a":1.55},{"f":2.22,"r":1.6,"a":1.6},{"f":2.25,"r":1.4,"a":1.4},{"f":2.28,"r":1.35,"a":1.35},{"f":2.3,"r":1.62,"a":1.62},{"f":2.32,"r":1.95,"a":1.95},{"f":2.34,"r":1.88,"a":1.88},{"f":2.36,"r":1.87,"a":1.87},{"f":2.27,"r":1.85,"a":1.85},{"f":2.29,"r":2.05,"a":2.05},{"f":2.39,"r":2.1,"a":2.1},{"f":2.4,"r":1.55,"a":1.55},{"f":2.42,"r":1.3,"a":1.3},{"f":2.45,"r":1.2,"a":1.2},{"f":2.37,"r":1.25,"a":1.25},{"f":2.44,"r":1.7,"a":1.7},{"f":2.46,"r":0.95,"a":0.95},{"f":2.5,"r":1.3,"a":1.3},{"f":2.52,"r":1.1,"a":1.1},{"f":2.55,"r":1.67,"a":1.67},{"f":2.57,"r":1.62,"a":1.62},{"f":2.58,"r":1.45,"a":1.45},{"f":2.54,"r":0.85,"a":0.85},{"f":2.56,"r":0.6,"a":0.6},{"f":2.59,"r":0.45,"a":0.45},{"f":2.61,"r":0.95,"a":0.95},{"f":2.63,"r":0.65,"a":0.65},{"f":2.62,"r":0.3,"a":0.3},{"f":2.64,"r":1.35,"a":1.35},{"f":2.66,"r":0.8,"a":0.8},{"f":2.68,"r":1.38,"a":1.38},{"f":2.67,"r":0.4,"a":0.4},{"f":2.65,"r":0.1,"a":0.1},
{"f":1.8,"r":1.2,"a":1.2},{"f":1.83,"r":1.17,"a":1.17},{"f":1.86,"r":1.14,"a":1.14},{"f":1.9,"r":1.45,"a":1.45},{"f":1.94,"r":1.41,"a":1.41},{"f":1.97,"r":1.38,"a":1.38},{"f":2.02,"r":1.6,"a":1.6},{"f":2.06,"r":1.56,"a":1.56},{"f":2.1,"r":1.52,"a":1.52},{"f":2.14,"r":1.65,"a":1.65},{"f":2.18,"r":1.61,"a":1.61},{"f":2.22,"r":1.3,"a":1.3},{"f":2.26,"r":1.22,"a":1.22},{"f":2.3,"r":1.18,"a":1.18},{"f":2.34,"r":1.14,"a":1.14},{"f":2.38,"r":1.3,"a":1.3},{"f":1.85,"r":1.5,"a":1.5},{"f":1.89,"r":1.46,"a":1.46},{"f":2.08,"r":1.85,"a":1.85},{"f":2.2,"r":1.73,"a":1.73},{"f":2.24,"r":1.69,"a":1.69},{"f":2.31,"r":1.4,"a":1.4},{"f":2.35,"r":1.35,"a":1.35},{"f":2.4,"r":0.95,"a":0.95},{"f":2.44,"r":0.9,"a":0.9},{"f":2.48,"r":0.75,"a":0.75},{"f":2.52,"r":0.65,"a":0.65},{"f":2.55,"r":1.47,"a":1.47},{"f":2.58,"r":1.33,"a":1.33},{"f":2.51,"r":1.29,"a":1.29},{"f":2.53,"r":1.29,"a":1.29},{"f":2.56,"r":1.2,"a":1.2},
{"f":2.61,"r":0.94,"a":0.94},{"f":2.67,"r":0.85,"a":0.85},{"f":2.72,"r":1.03,"a":1.03},{"f":2.75,"r":1.0,"a":1.0},{"f":2.83,"r":0.92,"a":0.92},{"f":2.85,"r":1.02,"a":1.02},{"f":2.76,"r":0.81,"a":0.81},{"f":2.8,"r":0.42,"a":0.42},{"f":2.84,"r":0.49,"a":0.49},{"f":2.89,"r":0.54,"a":0.54},{"f":2.91,"r":0.62,"a":0.62},{"f":2.86,"r":0.63,"a":0.63},{"f":2.94,"r":0.84,"a":0.84},{"f":2.99,"r":0.68,"a":0.68},{"f":3.0,"r":0.75,"a":0.75},{"f":3.01,"r":0.16,"a":0.16},{"f":2.95,"r":0.3,"a":0.3},{"f":2.95,"r":0.07,"a":0.07},{"f":2.95,"r":-0.15,"a":0.15},{"f":3.02,"r":-0.12,"a":0.12},{"f":3.02,"r":-0.52,"a":0.52},{"f":3.02,"r":-0.74,"a":0.74},{"f":3.0,"r":-1.0,"a":1.0},{"f":2.98,"r":-1.22,"a":1.22},{"f":2.93,"r":-0.67,"a":0.67},{"f":2.96,"r":-0.74,"a":0.74},{"f":2.94,"r":-0.88,"a":0.88},{"f":2.97,"r":-0.83,"a":0.83},{"f":2.89,"r":-1.15,"a":1.15},{"f":2.87,"r":-1.37,"a":1.37},{"f":2.9,"r":-0.45,"a":0.45},{"f":2.9,"r":-0.26,"a":0.26},{"f":2.83,"r":-0.5,"a":0.5},{"f":2.85,"r":-0.8,"a":0.8},{"f":2.83,"r":-0.75,"a":0.75},{"f":2.8,"r":-0.6,"a":0.6},{"f":2.81,"r":-0.8,"a":0.8},{"f":2.77,"r":-0.35,"a":0.35},{"f":2.79,"r":-0.11,"a":0.11},{"f":2.77,"r":-0.59,"a":0.59},{"f":2.76,"r":-0.87,"a":0.87},{"f":2.76,"r":-1.11,"a":1.11},{"f":2.78,"r":-1.35,"a":1.35},{"f":2.71,"r":-0.54,"a":0.54},{"f":2.72,"r":-0.73,"a":0.73},{"f":2.7,"r":-0.87,"a":0.87},{"f":2.69,"r":-1.06,"a":1.06},{"f":2.72,"r":-1.35,"a":1.35},{"f":2.68,"r":-1.54,"a":1.54},{"f":2.65,"r":-1.59,"a":1.59},{"f":2.62,"r":-1.49,"a":1.49},{"f":2.6,"r":-1.44,"a":1.44},{"f":2.58,"r":-1.54,"a":1.54},{"f":3.13,"r":-0.63,"a":0.63},{"f":3.16,"r":-0.63,"a":0.63},{"f":3.17,"r":-1.17,"a":1.17},{"f":3.17,"r":-1.61,"a":1.61},{"f":3.24,"r":-1.47,"a":1.47},{"f":3.22,"r":-0.1,"a":0.1},{"f":3.27,"r":-2.26,"a":2.26},{"f":3.36,"r":0.4,"a":0.4},{"f":2.63,"r":1.37,"a":1.37},{"f":2.67,"r":1.39,"a":1.39},{"f":2.71,"r":1.48,"a":1.48},{"f":2.74,"r":1.29,"a":1.29},{"f":2.77,"r":1.25,"a":1.25},{"f":2.72,"r":1.07,"a":1.07},{"f":2.78,"r":1.1,"a":1.1},{"f":2.85,"r":1.05,"a":1.05},{"f":2.88,"r":1.64,"a":1.64},{"f":2.98,"r":1.76,"a":1.76},{"f":2.96,"r":1.53,"a":1.53},{"f":2.95,"r":1.33,"a":1.33},
{"f":2.61,"r":-0.2,"a":0.2},{"f":2.62,"r":-0.55,"a":0.55},{"f":2.63,"r":0.15,"a":0.15},{"f":2.64,"r":-0.85,"a":0.85},{"f":2.65,"r":-0.3,"a":0.3},{"f":2.66,"r":0.35,"a":0.35},{"f":2.66,"r":-1.1,"a":1.1},{"f":2.67,"r":-0.05,"a":0.05},{"f":2.68,"r":0.6,"a":0.6},{"f":2.69,"r":-0.4,"a":0.4},{"f":2.7,"r":0.2,"a":0.2},{"f":2.7,"r":-0.65,"a":0.65},{"f":2.71,"r":0.55,"a":0.55},{"f":2.73,"r":-0.15,"a":0.15},{"f":2.74,"r":0.3,"a":0.3},{"f":2.74,"r":-0.95,"a":0.95},{"f":2.62,"r":0.55,"a":0.55},{"f":2.63,"r":-1.25,"a":1.25},{"f":2.61,"r":-0.95,"a":0.95},{"f":2.64,"r":0.75,"a":0.75},{"f":2.66,"r":-0.7,"a":0.7},
{"f":1.52,"r":-0.47,"a":0.47},{"f":1.57,"r":-0.72,"a":0.72},{"f":1.58,"r":-0.5,"a":0.5},{"f":1.59,"r":-0.25,"a":0.25},{"f":1.62,"r":0.22,"a":0.22},{"f":1.64,"r":0.45,"a":0.45},{"f":1.66,"r":0.5,"a":0.5},{"f":1.69,"r":0.52,"a":0.52},{"f":1.71,"r":0.75,"a":0.75},{"f":1.58,"r":-0.75,"a":0.75},
{"f":2.47,"r":-1.52,"a":1.52},{"f":2.49,"r":-1.45,"a":1.45},{"f":2.51,"r":-1.6,"a":1.6},{"f":2.56,"r":-1.62,"a":1.62},{"f":2.57,"r":-1.55,"a":1.55}
]
},
"vconcat": [
  {
    "hconcat": [
      {
        "title": "Histogram of Residuals",
        "width": 437, "height": 251,
        "data": {"name": "hist"},
        "mark": {"type": "rect", "fill": "#D3D3D3", "stroke": "black", "strokeWidth": 1.1},
        "encoding": {
          "x": {"field": "lo", "type": "quantitative", "title": "Residuals",
                "scale": {"domain": [-2.707, 4.707], "nice": false, "zero": false},
                "axis": {"values": [-2, -1, 0, 1, 2, 3, 4],
                         "labelExpr": "datum.value % 2 === 0 ? replace(datum.label, '−', '-') : ''",
                         "tickOpacity": {"condition": {"test": "datum.value % 2 !== 0", "value": 0}, "value": 1},
                         "gridWidth": {"condition": {"test": "datum.value % 2 !== 0", "value": 0.6}, "value": 1.2}}},
          "x2": {"field": "hi"},
          "y": {"field": "count", "type": "quantitative", "title": "Count",
                "scale": {"domain": [-23.5, 493.5], "nice": false, "zero": false},
                "axis": {"values": [0, 50, 100, 150, 200, 250, 300, 350, 400, 450],
                         "labelExpr": "datum.value % 100 === 0 ? datum.label : ''",
                         "tickOpacity": {"condition": {"test": "datum.value % 100 !== 0", "value": 0}, "value": 1},
                         "gridWidth": {"condition": {"test": "datum.value % 100 !== 0", "value": 0.6}, "value": 1.2}}},
          "y2": {"datum": 0}
        }
      },
      {
        "title": "Residual Dependence Plot",
        "width": 458, "height": 251,
        "layer": [
          {
            "data": {"name": "pts"},
            "mark": {"type": "circle", "size": 36, "color": "black", "opacity": 0.5},
            "encoding": {
              "x": {"field": "f", "type": "quantitative", "title": "Fitted",
                    "scale": {"domain": [1.432, 3.422], "nice": false, "zero": false},
                    "axis": {"values": [1.5, 1.75, 2.0, 2.25, 2.5, 2.75, 3.0, 3.25], "format": ".1f",
                             "labelExpr": "(datum.value * 4) % 2 === 0 ? datum.label : ''",
                             "tickOpacity": {"condition": {"test": "(datum.value * 4) % 2 !== 0", "value": 0}, "value": 1},
                             "gridWidth": {"condition": {"test": "(datum.value * 4) % 2 !== 0", "value": 0.6}, "value": 1.2}}},
              "y": {"field": "r", "type": "quantitative", "title": "Residuals",
                    "scale": {"domain": [-2.6, 4.58], "nice": false, "zero": false},
                    "axis": {"values": [-2, -1, 0, 1, 2, 3, 4],
                             "labelExpr": "datum.value % 2 === 0 ? replace(datum.label, '−', '-') : ''",
                             "tickOpacity": {"condition": {"test": "datum.value % 2 !== 0", "value": 0}, "value": 1},
                             "gridWidth": {"condition": {"test": "datum.value % 2 !== 0", "value": 0.6}, "value": 1.2}}}
            }
          },
          {
            "data": {"name": "smooth"},
            "mark": {"type": "area", "color": "#999999", "opacity": 0.4, "interpolate": "monotone"},
            "encoding": {
              "x": {"field": "f", "type": "quantitative"},
              "y": {"field": "lo", "type": "quantitative"},
              "y2": {"field": "hi"}
            }
          },
          {
            "data": {"name": "smooth"},
            "mark": {"type": "line", "color": "#3366FF", "strokeWidth": 3, "interpolate": "monotone"},
            "encoding": {
              "x": {"field": "f", "type": "quantitative"},
              "y": {"field": "fit", "type": "quantitative"}
            }
          }
        ]
      }
    ],
    "spacing": 31
  },
  {
    "title": "S-L Plot",
    "width": 431, "height": 250,
    "layer": [
      {
        "data": {"name": "pts"},
        "mark": {"type": "circle", "size": 36, "color": "black", "opacity": 0.5},
        "encoding": {
          "x": {"field": "f", "type": "quantitative", "title": "fitted",
                "scale": {"domain": [1.457, 3.43], "nice": false, "zero": false},
                "axis": {"values": [1.5, 1.75, 2.0, 2.25, 2.5, 2.75, 3.0, 3.25], "format": ".1f",
                         "labelExpr": "(datum.value * 4) % 2 === 0 ? datum.label : ''",
                         "tickOpacity": {"condition": {"test": "(datum.value * 4) % 2 !== 0", "value": 0}, "value": 1},
                         "gridWidth": {"condition": {"test": "(datum.value * 4) % 2 !== 0", "value": 0.6}, "value": 1.2}}},
          "y": {"field": "a", "type": "quantitative", "title": ["Absolute Value", "of Residuals"],
                "scale": {"domain": [-0.2115, 4.4415], "nice": false, "zero": false},
                "axis": {"values": [0, 0.5, 1, 1.5, 2, 2.5, 3, 3.5, 4], "format": ".0f",
                         "titleLineHeight": 24, "titlePadding": 3,
                         "labelExpr": "datum.value % 1 === 0 ? datum.label : ''",
                         "tickOpacity": {"condition": {"test": "datum.value % 1 !== 0", "value": 0}, "value": 1},
                         "gridWidth": {"condition": {"test": "datum.value % 1 !== 0", "value": 0.6}, "value": 1.2}}}
        }
      },
      {
        "data": {"name": "slsmooth"},
        "mark": {"type": "area", "color": "#999999", "opacity": 0.4},
        "encoding": {
          "x": {"field": "f", "type": "quantitative"},
          "y": {"field": "lo", "type": "quantitative"},
          "y2": {"field": "hi"}
        }
      },
      {
        "data": {"name": "slsmooth"},
        "mark": {"type": "line", "color": "#3366FF", "strokeWidth": 3},
        "encoding": {
          "x": {"field": "f", "type": "quantitative"},
          "y": {"field": "fit", "type": "quantitative"}
        }
      }
    ]
  }
],
"spacing": 17,
"center": true
}
